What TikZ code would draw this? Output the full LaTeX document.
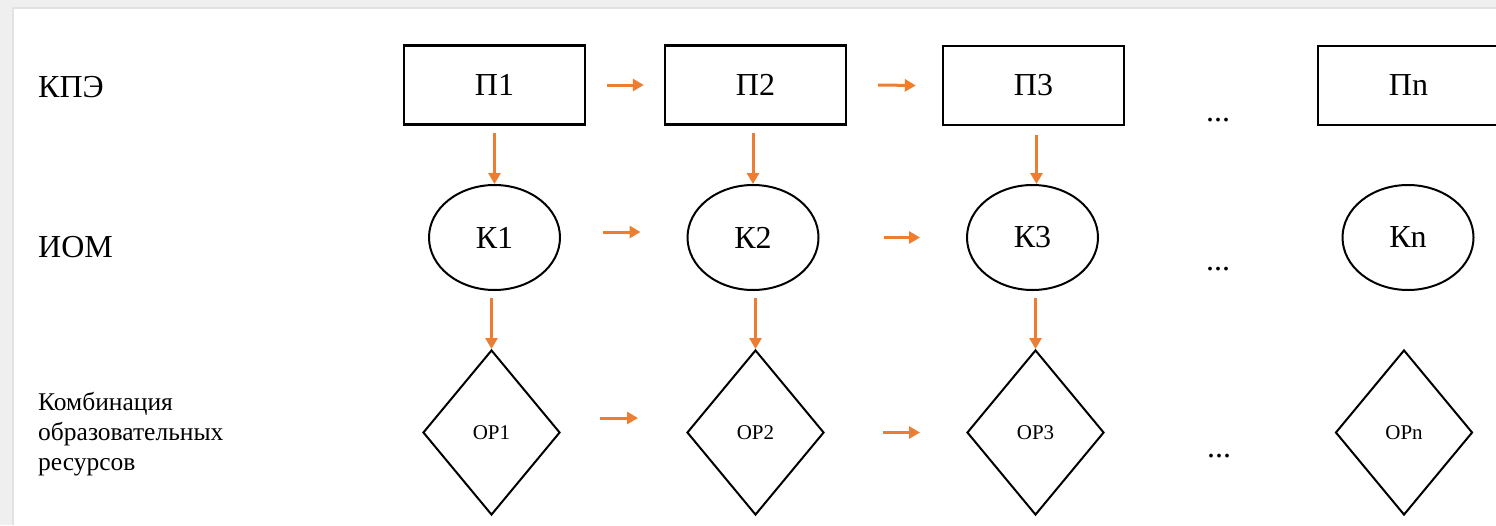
\documentclass[tikz,border=0pt]{standalone}
\usepackage{fontspec}
\setmainfont{Liberation Serif}
\usetikzlibrary{shapes.geometric,arrows.meta,calc}
\definecolor{arrorange}{RGB}{237,125,49}
\definecolor{framegray}{RGB}{239,239,239}
\definecolor{edgegray}{RGB}{226,226,226}
\newcommand\myBig{\fontsize{32}{38}\selectfont}
\newcommand\myMid{\fontsize{25.5}{30}\selectfont}
\newcommand\mySmall{\fontsize{21}{25}\selectfont}
\begin{document}
\begin{tikzpicture}[x=1pt,y=-1pt,
  box/.style={draw,line width=2.4pt,minimum width=181pt,minimum height=79pt,inner sep=0pt,font=\myBig},
  oval/.style={ellipse,draw,line width=2pt,minimum width=131pt,minimum height=105pt,inner sep=0pt,font=\myBig},
  rhomb/.style={diamond,draw,line width=2pt,minimum width=137pt,minimum height=165pt,inner sep=0pt,font=\mySmall},
  arr/.style={draw=arrorange,line width=3pt,-{Triangle[length=11pt,width=12pt]}},
  lbl/.style={anchor=base west,inner sep=0pt,font=\myBig},
  dots/.style={anchor=base,inner sep=0pt,font=\myBig}]
\useasboundingbox (0,0) rectangle (1496,525);
\fill[framegray] (0,0) rectangle (1496,525);
\fill[white] (13,8) rectangle (1496,525);
\draw[edgegray,line width=1.5pt] (13,525) -- (13,8) -- (1496,8);

% left labels
\node[lbl] (lkpe) at (38,97) {КПЭ};
\node[lbl] (liom) at (38,257) {ИОМ};
\node[anchor=base west,inner sep=0pt,font=\myMid,align=left] (lkomb) at (38,470) {Комбинация\\образовательных\\ресурсов};

% row 1
\node[box] (p1) at (494.5,85) {П1};
\node[box] (p2) at (755.5,85) {П2};
\node[box] (p3) at (1033.5,85.5) {П3};
\node[box] (pn) at (1408.5,85.5) {Пn};
% row 2
\node[oval] (k1) at (494.5,237.5) {К1};
\node[oval] (k2) at (753,237.5) {К2};
\node[oval] (k3) at (1032.5,237.5) {К3};
\node[oval] (kn) at (1408,237.5) {Кn};
% row 3
\node[rhomb] (d1) at (491.5,432.5) {ОР1};
\node[rhomb] (d2) at (755.5,432.5) {ОР2};
\node[rhomb] (d3) at (1035.5,432.5) {ОР3};
\node[rhomb] (dn) at (1404,432.5) {ОРn};

% dots
\node[dots] (e1) at (1218,121) {...};
\node[dots] (e2) at (1218,270) {...};
\node[dots] (e3) at (1219,457) {...};

% horizontal arrows
\draw[arr] ([xshift=21pt]p1.east) -- ([xshift=-20pt]p2.west);
\draw[arr] ([xshift=31pt]p2.east) -- ([xshift=-26pt]p3.west);
\draw[arr] ([xshift=42pt,yshift=5.5pt]k1.east) -- ([xshift=-46pt,yshift=5.5pt]k2.west);
\draw[arr] ([xshift=64pt]k2.east) -- ([xshift=-46pt]k3.west);
\draw[arr] ([xshift=39pt,yshift=14.5pt]d1.east) -- ([xshift=-48pt,yshift=14.5pt]d2.west);
\draw[arr] ([xshift=58pt]d2.east) -- ([xshift=-46pt]d3.west);

% vertical arrows
\draw[arr,shorten <=7.5pt] (k1.north |- p1.south) -- (k1.north);
\draw[arr,shorten <=7.5pt] (k2.north |- p2.south) -- (k2.north);
\draw[arr,shorten <=9pt] ([xshift=4pt]k3.north |- p3.south) -- ([xshift=4pt]k3.north);
\draw[arr,shorten <=7pt] (d1.north |- k1.south) -- (d1.north);
\draw[arr,shorten <=7pt] (d2.north |- k2.south) -- (d2.north);
\draw[arr,shorten <=7pt] (d3.north |- k3.south) -- (d3.north);
\end{tikzpicture}
\end{document}
